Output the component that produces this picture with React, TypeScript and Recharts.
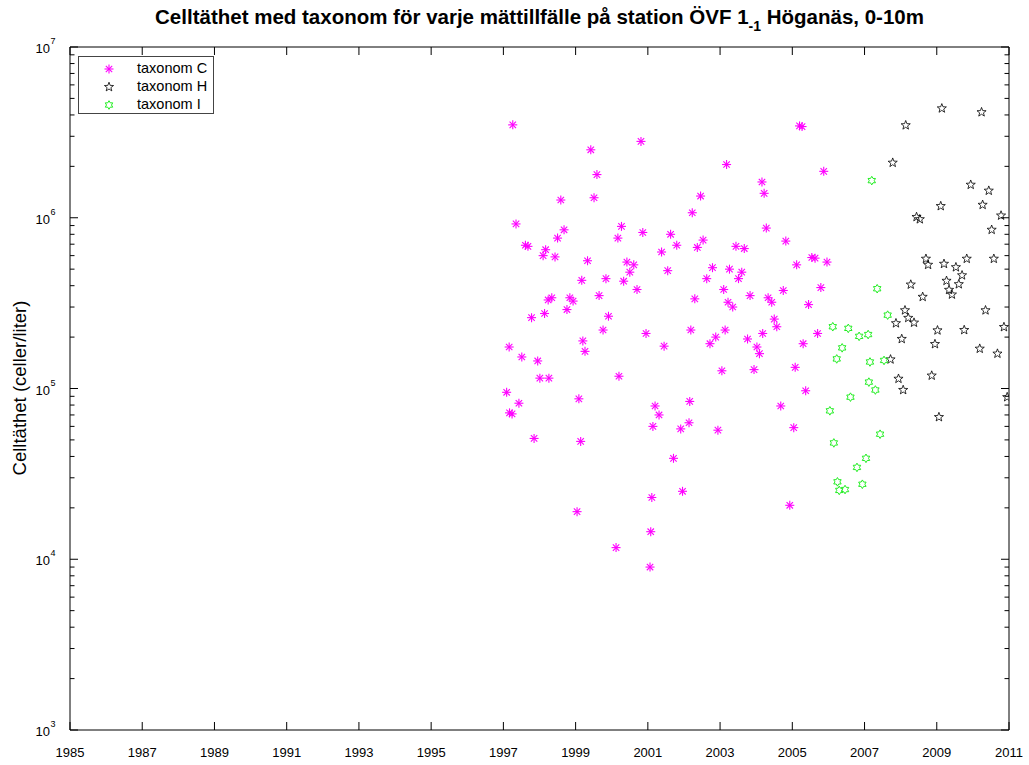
import React from 'react';
import { ScatterChart, Scatter, XAxis, YAxis, Legend } from 'recharts';

const xTicks = [1985, 1987, 1989, 1991, 1993, 1995, 1997, 1999, 2001, 2003, 2005, 2007, 2009, 2011];
const yDecades = [1e3, 1e4, 1e5, 1e6, 1e7];
const yMinorSteps = [2, 3, 4, 5, 6, 7, 8, 9];

// [year, celler/liter]
const taxonomC: [number, number][] = [
  [1997.26, 3.5e6], [1997.35, 9.2e5], [1997.61, 6.9e5], [1997.68, 6.8e5], [1998.17, 6.5e5],
  [1998.1, 6.0e5], [1998.43, 5.9e5], [1998.24, 3.3e5], [1998.34, 3.4e5], [1997.78, 2.6e5],
  [1998.14, 2.75e5], [1997.16, 1.75e5], [1997.51, 1.53e5], [1997.95, 1.45e5], [1998.01, 1.15e5],
  [1998.26, 1.15e5], [1997.09, 9.5e4], [1997.43, 8.2e4], [1997.17, 7.2e4], [1997.24, 7.1e4],
  [1997.85, 5.1e4], [1998.59, 1.27e6], [1998.68, 8.5e5], [1998.5, 7.6e5], [1998.84, 3.4e5],
  [1998.93, 3.25e5], [1998.76, 2.9e5], [1999.17, 4.3e5], [1999.2, 1.9e5], [1999.26, 1.65e5],
  [1999.33, 5.6e5], [1999.42, 2.5e6], [1999.51, 1.31e6], [1999.59, 1.79e6], [1999.65, 3.5e5],
  [1999.76, 2.2e5], [1999.84, 4.4e5], [1999.91, 2.65e5], [1999.09, 8.7e4], [1999.14, 4.9e4],
  [1999.04, 1.9e4], [2000.12, 1.17e4], [2000.17, 7.6e5], [2000.2, 1.18e5], [2000.27, 8.9e5],
  [2000.33, 4.25e5], [2000.42, 5.5e5], [2000.5, 4.8e5], [2000.61, 5.3e5], [2000.7, 3.8e5],
  [2000.81, 2.8e6], [2000.86, 8.2e5], [2000.95, 2.1e5], [2001.06, 9.0e3], [2001.08, 1.45e4],
  [2001.11, 2.3e4], [2001.14, 6.0e4], [2001.2, 7.9e4], [2001.31, 7.0e4], [2001.38, 6.3e5],
  [2001.45, 1.77e5], [2001.55, 4.9e5], [2001.63, 8.0e5], [2001.71, 3.9e4], [2001.8, 6.9e5],
  [2001.91, 5.8e4], [2001.96, 2.5e4], [2002.14, 6.3e4], [2002.16, 8.4e4], [2002.19, 2.2e5],
  [2002.23, 1.07e6], [2002.3, 3.35e5], [2002.37, 6.7e5], [2002.46, 1.34e6], [2002.53, 7.4e5],
  [2002.63, 4.4e5], [2002.72, 1.83e5], [2002.79, 5.1e5], [2002.88, 2.0e5], [2002.94, 5.7e4],
  [2003.05, 1.27e5], [2003.1, 3.8e5], [2003.14, 2.2e5], [2003.18, 2.05e6], [2003.22, 3.2e5],
  [2003.26, 5.0e5], [2003.35, 3.0e5], [2003.44, 6.8e5], [2003.51, 4.4e5], [2003.6, 4.8e5],
  [2003.67, 6.6e5], [2003.76, 1.95e5], [2003.83, 3.5e5], [2003.94, 1.29e5], [2004.02, 1.75e5],
  [2004.09, 1.6e5], [2004.16, 1.62e6], [2004.18, 2.1e5], [2004.22, 1.39e6], [2004.28, 8.7e5],
  [2004.33, 3.4e5], [2004.43, 3.2e5], [2004.5, 2.55e5], [2004.57, 2.3e5], [2004.68, 7.9e4],
  [2004.75, 3.75e5], [2004.82, 7.3e5], [2004.93, 2.07e4], [2005.04, 5.9e4], [2005.08, 1.33e5],
  [2005.12, 5.3e5], [2005.2, 3.45e6], [2005.27, 3.42e6], [2005.3, 1.83e5], [2005.37, 9.7e4],
  [2005.45, 3.1e5], [2005.54, 5.85e5], [2005.63, 5.8e5], [2005.7, 2.1e5], [2005.79, 3.9e5],
  [2005.87, 1.87e6], [2005.96, 5.5e5],
];

const taxonomH: [number, number][] = [
  [2009.14, 4.37e6], [2010.24, 4.15e6], [2008.14, 3.48e6], [2007.78, 2.1e6], [2009.94, 1.56e6],
  [2010.44, 1.44e6], [2009.11, 1.17e6], [2010.27, 1.19e6], [2010.78, 1.03e6], [2008.44, 1.01e6],
  [2008.53, 9.8e5], [2010.52, 8.5e5], [2008.7, 5.75e5], [2008.76, 5.3e5], [2009.2, 5.37e5],
  [2009.53, 5.13e5], [2009.83, 5.75e5], [2010.58, 5.75e5], [2009.7, 4.6e5], [2009.27, 4.27e5],
  [2009.61, 4.08e5], [2008.28, 4.06e5], [2009.34, 3.78e5], [2009.42, 3.55e5], [2008.61, 3.44e5],
  [2008.12, 2.87e5], [2008.21, 2.59e5], [2008.37, 2.43e5], [2007.87, 2.41e5], [2010.35, 2.87e5],
  [2010.86, 2.29e5], [2009.02, 2.19e5], [2009.76, 2.2e5], [2008.03, 1.95e5], [2008.95, 1.82e5],
  [2010.19, 1.71e5], [2010.68, 1.6e5], [2007.72, 1.48e5], [2007.94, 1.14e5], [2008.86, 1.19e5],
  [2008.07, 9.8e4], [2010.95, 8.9e4], [2009.06, 6.8e4],
];

const taxonomI: [number, number][] = [
  [2007.2, 1.65e6], [2007.35, 3.84e5], [2007.64, 2.69e5], [2006.12, 2.3e5], [2006.55, 2.25e5],
  [2006.85, 2.02e5], [2007.1, 2.07e5], [2006.38, 1.73e5], [2006.23, 1.49e5], [2007.15, 1.43e5],
  [2007.54, 1.46e5], [2007.12, 1.09e5], [2007.3, 9.8e4], [2006.61, 8.9e4], [2006.04, 7.4e4],
  [2007.43, 5.4e4], [2006.15, 4.8e4], [2007.04, 3.9e4], [2006.79, 3.45e4], [2006.25, 2.84e4],
  [2006.3, 2.53e4], [2006.46, 2.56e4], [2006.94, 2.75e4],
];

const FONT = '"Liberation Sans", Arial, Helvetica, sans-serif';

const toPoints = (rows: [number, number][]) => rows.map(([year, cells]) => ({ year, cells }));

const yTicks = [...yDecades, ...yDecades.slice(0, 4).flatMap((d) => yMinorSteps.map((m) => d * m))].sort(
  (a, b) => a - b
);
const isMajor = (v: number) => yDecades.some((d) => Math.abs(d - v) < 1e-6 * d);

function starPoints(cx: number, cy: number, n: number, outer: number, inner: number) {
  const pts: string[] = [];
  for (let i = 0; i < n * 2; i++) {
    const r = i % 2 === 0 ? outer : inner;
    const a = -Math.PI / 2 + (i * Math.PI) / n;
    pts.push(`${cx + r * Math.cos(a)},${cy + r * Math.sin(a)}`);
  }
  return pts.join(' ');
}

const Asterisk = ({ cx, cy }: any) => (
  <g stroke="#ff00ff" strokeWidth={1.1}>
    <line x1={cx - 4.5} y1={cy} x2={cx + 4.5} y2={cy} />
    <line x1={cx} y1={cy - 4.5} x2={cx} y2={cy + 4.5} />
    <line x1={cx - 3.2} y1={cy - 3.2} x2={cx + 3.2} y2={cy + 3.2} />
    <line x1={cx - 3.2} y1={cy + 3.2} x2={cx + 3.2} y2={cy - 3.2} />
  </g>
);

const Pentagram = ({ cx, cy }: any) => (
  <polygon points={starPoints(cx, cy, 5, 4.8, 2.0)} fill="none" stroke="#000" strokeWidth={0.8} />
);

const Hexagram = ({ cx, cy }: any) => (
  <polygon points={starPoints(cx, cy, 6, 4.3, 2.5)} fill="none" stroke="#22ee22" strokeWidth={1} />
);

const Nothing = () => <g />;

const series = [
  { name: 'taxonom C', data: taxonomC, Shape: Asterisk },
  { name: 'taxonom H', data: taxonomH, Shape: Pentagram },
  { name: 'taxonom I', data: taxonomI, Shape: Hexagram },
];

const LeftTick = (props: any) => {
  const { x, y, payload } = props;
  const v = payload.value;
  const major = isMajor(v);
  return (
    <g>
      <line x1={x} y1={y} x2={x + (major ? 8 : 4.5)} y2={y} stroke="#000" />
      {major && (
        <g fontFamily={FONT} fill="#000">
          <text x={x - 20} y={y + 6} fontSize={13} textAnchor="end">
            10
          </text>
          <text x={x - 19.5} y={y - 3} fontSize={9} textAnchor="start">
            {Math.round(Math.log10(v))}
          </text>
        </g>
      )}
    </g>
  );
};

const RightTick = (props: any) => {
  const { x, y, payload } = props;
  const major = isMajor(payload.value);
  return <line x1={x} y1={y} x2={x - (major ? 8 : 4.5)} y2={y} stroke="#000" />;
};

const BottomTick = (props: any) => {
  const { x, y, payload } = props;
  return (
    <g>
      <line x1={x} y1={y} x2={x} y2={y - 8} stroke="#000" />
      <text x={x} y={y + 26.5} fontSize={13} fontFamily={FONT} textAnchor="middle" fill="#000">
        {payload.value}
      </text>
    </g>
  );
};

const TopTick = (props: any) => {
  const { x, y } = props;
  return <line x1={x} y1={y} x2={x} y2={y + 8} stroke="#000" />;
};

const LegendBox = () => (
  <div
    style={{
      width: 134,
      height: 56,
      border: '1px solid #444',
      background: '#fff',
      fontFamily: FONT,
      fontSize: 14.5,
      position: 'relative',
    }}
  >
    {series.map((s, i) => (
      <div key={s.name} style={{ position: 'absolute', left: 0, top: 3 + i * 18, height: 18, width: 134 }}>
        <svg width={40} height={18} style={{ position: 'absolute', left: 10, top: 0 }}>
          <s.Shape cx={20} cy={9} />
        </svg>
        <span style={{ position: 'absolute', left: 58, top: 0, whiteSpace: 'nowrap' }}>{s.name}</span>
      </div>
    ))}
  </div>
);

export default function App() {
  return (
    <div style={{ position: 'absolute', left: 0, top: 0, width: 1029, height: 765, background: '#fff' }}>
      <div
        style={{
          position: 'absolute',
          left: 70,
          width: 939,
          top: 6,
          textAlign: 'center',
          fontFamily: FONT,
          fontWeight: 'bold',
          fontSize: 20.5,
          whiteSpace: 'nowrap',
          lineHeight: '22px',
        }}
      >
        Celltäthet med taxonom för varje mättillfälle på station ÖVF 1
        <sub style={{ fontSize: 14, verticalAlign: '-7px' }}>-1</sub> Höganäs, 0-10m
      </div>
      <div
        style={{
          position: 'absolute',
          left: 20,
          top: 388,
          transform: 'translate(-50%, -50%) rotate(-90deg)',
          fontFamily: FONT,
          fontSize: 18.5,
          whiteSpace: 'nowrap',
        }}
      >
        Celltäthet (celler/liter)
      </div>
      <ScatterChart width={1029} height={765} margin={{ top: 46, right: 19, bottom: 5, left: 0 }}>
        <XAxis
          dataKey="year"
          type="number"
          domain={[1985, 2011]}
          ticks={xTicks}
          interval={0}
          allowDataOverflow
          height={30}
          tickSize={0}
          tickMargin={0}
          tick={BottomTick}
          axisLine={{ stroke: '#000' }}
          tickLine={false}
        />
        <XAxis
          xAxisId="top"
          dataKey="year"
          orientation="top"
          type="number"
          domain={[1985, 2011]}
          ticks={xTicks}
          interval={0}
          allowDataOverflow
          height={1}
          tickSize={0}
          tickMargin={0}
          tick={TopTick}
          axisLine={{ stroke: '#000' }}
          tickLine={false}
        />
        <YAxis
          dataKey="cells"
          type="number"
          scale="log"
          domain={[1e3, 1e7]}
          ticks={yTicks}
          interval={0}
          allowDataOverflow
          width={70}
          tickSize={0}
          tickMargin={0}
          tick={LeftTick}
          axisLine={{ stroke: '#000' }}
          tickLine={false}
        />
        <YAxis
          yAxisId="right"
          dataKey="cells"
          orientation="right"
          type="number"
          scale="log"
          domain={[1e3, 1e7]}
          ticks={yTicks}
          interval={0}
          allowDataOverflow
          width={1}
          tickSize={0}
          tickMargin={0}
          tick={RightTick}
          axisLine={{ stroke: '#000' }}
          tickLine={false}
        />
        <Legend
          layout="vertical"
          align="center"
          verticalAlign="middle"
          wrapperStyle={{ left: 78, top: 56, width: 'auto' }}
          content={LegendBox}
        />
        {/* invisible series so the mirrored top/right axes get drawn */}
        <Scatter
          xAxisId="top"
          yAxisId="right"
          data={toPoints(taxonomC)}
          shape={Nothing}
          legendType="none"
          isAnimationActive={false}
        />
        {series.map((s) => (
          <Scatter
            key={s.name}
            name={s.name}
            data={toPoints(s.data)}
            shape={s.Shape}
            isAnimationActive={false}
          />
        ))}
      </ScatterChart>
    </div>
  );
}
